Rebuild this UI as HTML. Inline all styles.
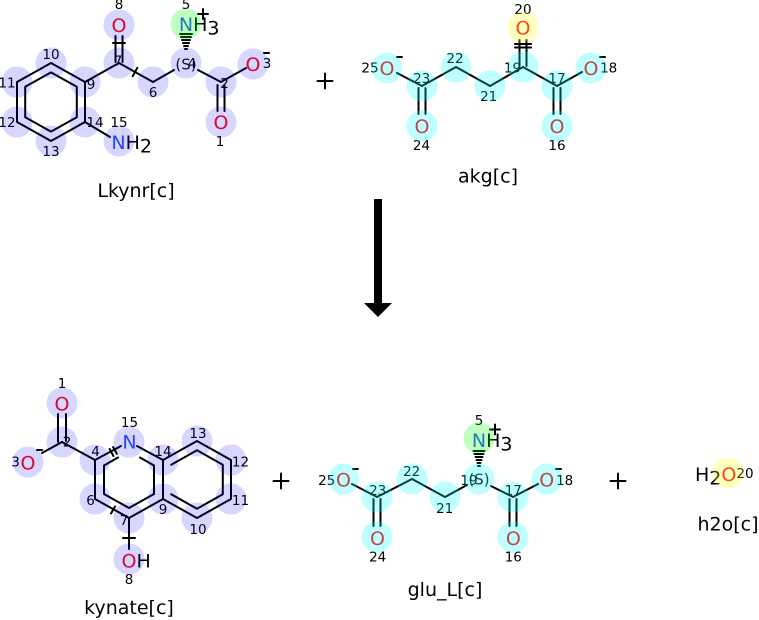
<!DOCTYPE html>
<html><head><meta charset="utf-8">
<style>
html,body{margin:0;padding:0;background:#fff;}
svg{display:block;}
text{font-family:"DejaVu Sans","Liberation Sans",sans-serif;}
.o{font-size:19px;fill:#FF0D0D;}
.n{font-size:19px;fill:#3050F8;}
.k{font-size:19px;fill:#000;}
.num{font-size:13.5px;fill:#000;text-anchor:middle;}
.cip{font-size:15px;fill:#111;text-anchor:middle;}
.cap{font-size:19px;fill:#000;text-anchor:middle;}
.m{text-anchor:middle;}
</style></head><body>
<svg width="759" height="620" viewBox="0 0 759 620" xmlns="http://www.w3.org/2000/svg">
<g fill="none" stroke="#000" stroke-width="2" stroke-linecap="round" stroke-linejoin="round">
<!-- Lkynr -->
<path d="M85,82 L51,63 L17,82 L17,122 L51,141 L85,122 Z"/>
<path d="M51,72.4 L76.8,86.8 L76.8,117.2 L51,131.6 L25.2,117.2 L25.2,86.8 Z"/>
<path d="M85,82 L119,63"/>
<path d="M115.5,62 L115.5,36 M122.5,62 L122.5,36 M113,43 L125,43"/>
<path d="M119,63 L153,82 M132.7,76.2 L137.3,67.8"/>
<path d="M153,82 L174,70"/>
<path d="M198,70 L221,82 L246,68"/>
<path d="M217.5,85 L217.5,111 M224.5,85 L224.5,111"/>
<path d="M85,122 L110,137"/>
<path d="M180,34 L192,34 M181,37 L191,37 M182,40 L190,40 M183,43 L189,43 M184,46 L188,46 M185,49 L187,49"/>
<path d="M198,14 L208,14 M203,9 L203,19"/>
<path d="M264,53 L269,53"/>
<!-- akg -->
<path d="M397,73 L422,86 L456,67 L490,86 L523,67 L557,86 L582,72"/>
<path d="M418.5,88 L418.5,114 M425.5,88 L425.5,114"/>
<path d="M553.5,88 L553.5,114 M560.5,88 L560.5,114"/>
<path d="M519.5,66 L519.5,40 M526.5,66 L526.5,40 M515,44 L531,44 M515,47.5 L531,47.5"/>
<path d="M397,57 L402,57 M600,57 L605,57"/>
<!-- plus signs -->
<path d="M317.5,81 L332.5,81 M325,73.5 L325,88.5"/>
<path d="M273.5,481 L288.5,481 M281,473.5 L281,488.5"/>
<path d="M610.5,481 L625.5,481 M618,473.5 L618,488.5"/>
<!-- kynate -->
<path d="M58,414 L58,442 M66,414 L66,441"/>
<path d="M62,442 L42,453"/>
<path d="M62,442 L95,460 L121,446"/>
<path d="M109.6,449 L113.4,456 M113.1,447 L116.9,454"/>
<path d="M137,446 L163,460 L163,499 L129,518 L95,499 L95,460"/>
<path d="M111,513.5 L115,506.5"/>
<path d="M104,465.5 L104,494 L129,508 L154,494 L154,465.5"/>
<path d="M104,465.5 L118,457.5 M154,465.5 L140,457.5"/>
<path d="M129,518 L129,549 M123,538 L135,538"/>
<path d="M163,460 L197,441 L231,460 L231,499 L197,518 L163,499"/>
<path d="M171.2,464.7 L197,450.2 L222.8,464.7 L222.8,494.3 L197,508.8 L171.2,494.3"/>
<path d="M37,450 L42,450"/>
<!-- glu -->
<path d="M352,484 L377,497 L412,479 L445,497 L467,485"/>
<path d="M491,486 L513,497 L538,484"/>
<path d="M373.5,499 L373.5,526 M380.5,499 L380.5,526"/>
<path d="M509.5,499 L509.5,526 M516.5,499 L516.5,526"/>
<path d="M473.5,451 L484.5,451 M474.5,454 L483.5,454 M475.5,457 L482.5,457 M476.5,460 L481.5,460 M477.5,463 L480.5,463 M478,466 L480,466"/>
<path d="M490,429.5 L500,429.5 M495,424.5 L495,434.5"/>
<path d="M353,469 L358,469 M556,469 L561,469"/>
</g>
<!-- arrow -->
<rect x="374" y="199" width="8" height="105" fill="#000"/>
<polygon points="364,303 392,303 378,317" fill="#000"/>

<!-- Lkynr labels -->
<text class="o m" x="119" y="32">O</text>
<text class="k" x="178.9" y="31"><tspan fill="#3050F8">N</tspan>H<tspan dy="3.5">3</tspan></text>
<text class="o m" x="253" y="71">O</text>
<text class="o m" x="221" y="129">O</text>
<text class="k" x="111.4" y="149"><tspan fill="#3050F8">N</tspan>H<tspan dy="3.5">2</tspan></text>
<text class="num" x="119" y="9">8</text>
<text class="num" x="186" y="9">5</text>
<text class="num" x="51" y="59">10</text>
<text class="num" x="7" y="87.5">11</text>
<text class="num" x="7" y="127">12</text>
<text class="num" x="51" y="156">13</text>
<text class="num" x="91" y="89">9</text>
<text class="num" x="95" y="127">14</text>
<text class="num" x="119" y="127">15</text>
<text class="num" x="118" y="65.5">7</text>
<text class="num" x="153" y="97">6</text>
<text class="num" x="192" y="68">4</text>
<text class="num" x="224.5" y="88">2</text>
<text class="num" x="220" y="146">1</text>
<text class="num" x="267" y="68">3</text>
<text class="cip" x="186" y="69.5">(S)</text>
<text class="cap" x="136" y="197">Lkynr[c]</text>

<!-- akg labels -->
<text class="o m" x="387" y="75">O</text>
<text class="o m" x="422" y="133">O</text>
<text class="o m" x="523" y="34.5">O</text>
<text class="o m" x="557" y="133">O</text>
<text class="o m" x="591" y="75">O</text>
<text class="num" x="370" y="72.7">25</text>
<text class="num" x="421.7" y="83">23</text>
<text class="num" x="421.5" y="150">24</text>
<text class="num" x="455" y="63">22</text>
<text class="num" x="488.7" y="101">21</text>
<text class="num" x="512.5" y="72.7">19</text>
<text class="num" x="523" y="14">20</text>
<text class="num" x="557" y="83">17</text>
<text class="num" x="557" y="150">16</text>
<text class="num" x="608.7" y="72.7">18</text>
<text class="cap" x="488" y="182.5">akg[c]</text>

<!-- kynate labels -->
<text class="o m" x="62" y="410.5">O</text>
<text class="o m" x="28" y="469.5">O</text>
<text class="n m" x="129.5" y="448.5">N</text>
<text class="k" x="121.5" y="567.5"><tspan fill="#FF0D0D">O</tspan>H</text>
<text class="num" x="62" y="388">1</text>
<text class="num" x="67" y="446.7">2</text>
<text class="num" x="15.5" y="466.7">3</text>
<text class="num" x="95.5" y="456">4</text>
<text class="num" x="129.5" y="427">15</text>
<text class="num" x="163" y="456">14</text>
<text class="num" x="198" y="438">13</text>
<text class="num" x="240.5" y="466.7">12</text>
<text class="num" x="240.5" y="505">11</text>
<text class="num" x="198" y="534">10</text>
<text class="num" x="163" y="514">9</text>
<text class="num" x="124" y="525">7</text>
<text class="num" x="90.5" y="505">6</text>
<text class="num" x="129" y="584">8</text>
<text class="cap" x="129" y="614">kynate[c]</text>

<!-- glu labels -->
<text class="k" x="471.9" y="447"><tspan fill="#3050F8">N</tspan>H<tspan dy="3.5">3</tspan></text>
<text class="o m" x="343.5" y="486.5">O</text>
<text class="o m" x="377.5" y="545">O</text>
<text class="o m" x="513.3" y="545">O</text>
<text class="o m" x="546.7" y="486.5">O</text>
<text class="num" x="479" y="425">5</text>
<text class="num" x="326.7" y="485">25</text>
<text class="num" x="377.7" y="495">23</text>
<text class="num" x="377.7" y="561.7">24</text>
<text class="num" x="411.7" y="476">22</text>
<text class="num" x="444.7" y="513">21</text>
<text class="num" x="469" y="485">19</text>
<text class="cip" x="479" y="484.5">(S)</text>
<text class="num" x="513.3" y="495">17</text>
<text class="num" x="513.3" y="561.7">16</text>
<text class="num" x="564.7" y="485">18</text>
<text class="cap" x="445" y="596">glu_L[c]</text>

<!-- h2o -->
<text class="k" x="695" y="481">H<tspan dy="3.5">2</tspan><tspan dy="-3.5" fill="#FF0D0D">O</tspan></text>
<text class="num" x="745" y="478">20</text>
<text class="cap" x="728" y="530.5">h2o[c]</text>

<!-- highlight circles (overlay) -->
<g fill="#0000FF" fill-opacity="0.16">
<circle cx="119" cy="25" r="15.5"/><circle cx="119" cy="63" r="15.5"/><circle cx="153" cy="82" r="15.5"/>
<circle cx="186" cy="63" r="15.5"/><circle cx="253" cy="64" r="15.5"/><circle cx="221" cy="82" r="15.5"/>
<circle cx="221" cy="122" r="15.5"/><circle cx="85" cy="82" r="15.5"/><circle cx="51" cy="63" r="15.5"/>
<circle cx="17" cy="82" r="15.5"/><circle cx="17" cy="122" r="15.5"/><circle cx="51" cy="141" r="15.5"/>
<circle cx="85" cy="122" r="15.5"/><circle cx="119" cy="141" r="15.5"/>
<circle cx="62" cy="403" r="15.5"/><circle cx="62" cy="442" r="15.5"/><circle cx="28" cy="462" r="15.5"/>
<circle cx="95" cy="460" r="15.5"/><circle cx="129" cy="442" r="15.5"/><circle cx="163" cy="460" r="15.5"/>
<circle cx="163" cy="499" r="15.5"/><circle cx="129" cy="518" r="15.5"/><circle cx="95" cy="499" r="15.5"/>
<circle cx="129" cy="559" r="15.5"/><circle cx="197" cy="441" r="15.5"/><circle cx="231" cy="460" r="15.5"/>
<circle cx="231" cy="499" r="15.5"/><circle cx="197" cy="518" r="15.5"/>
</g>
<g fill="#00FF00" fill-opacity="0.25">
<circle cx="186" cy="24" r="15.5"/>
<circle cx="479" cy="438" r="15.5"/>
</g>
<g fill="#FFFF00" fill-opacity="0.25">
<circle cx="523" cy="27.5" r="15.5"/>
<circle cx="728" cy="473" r="15.5"/>
</g>
<g fill="#00FFFF" fill-opacity="0.25">
<circle cx="387" cy="68" r="15.5"/><circle cx="422" cy="86" r="15.5"/><circle cx="422" cy="126" r="15.5"/>
<circle cx="456" cy="67" r="15.5"/><circle cx="490" cy="86" r="15.5"/><circle cx="523" cy="67" r="15.5"/>
<circle cx="557" cy="86" r="15.5"/><circle cx="557" cy="126" r="15.5"/><circle cx="591" cy="68" r="15.5"/>
<circle cx="343.5" cy="479" r="15.5"/><circle cx="377" cy="497" r="15.5"/><circle cx="377" cy="537" r="15.5"/>
<circle cx="412" cy="479" r="15.5"/><circle cx="445" cy="497" r="15.5"/><circle cx="479" cy="479" r="15.5"/>
<circle cx="513" cy="497" r="15.5"/><circle cx="513" cy="537" r="15.5"/><circle cx="547" cy="479" r="15.5"/>
</g>
</svg>
</body></html>
